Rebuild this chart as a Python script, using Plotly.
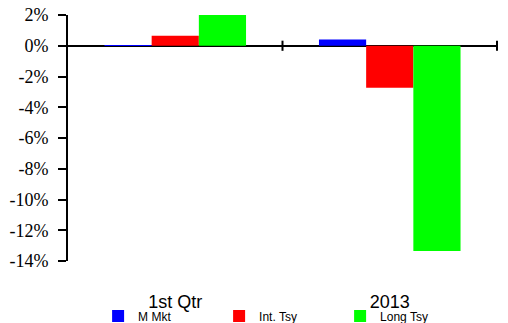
import plotly.graph_objects as go

categories = ["1st Qtr", "2013"]
series_names = ["M Mkt", "Int. Tsy", "Long Tsy"]
m_mkt = [0.02, 0.40]
int_tsy = [0.65, -2.73]
long_tsy = [2.02, -13.35]
colors = ["#0000FF", "#FF0000", "#00FF00"]
y_ticks = [2, 0, -2, -4, -6, -8, -10, -12, -14]

fig = go.Figure()
for name, vals, col in zip(series_names, [m_mkt, int_tsy, long_tsy], colors):
    fig.add_trace(go.Bar(x=categories, y=vals, name=name, marker_color=col,
                         marker_line_width=0))

# category boundary ticks crossing the zero line
for b in [0.5, 1.5]:
    fig.add_shape(type="line", xref="x", yref="y", x0=b, x1=b, y0=-0.33, y1=0.33,
                  line=dict(color="black", width=2))

fig.update_layout(
    width=508, height=323,
    font=dict(family="Liberation Sans", color="black"),
    margin=dict(l=68, r=10, t=15, b=62, autoexpand=False),
    plot_bgcolor="white", paper_bgcolor="white",
    barmode="group", bargap=0.34, bargroupgap=0,
    showlegend=True,
    legend=dict(orientation="h", x=0.07, xanchor="left", y=-0.224, yanchor="middle",
                entrywidth=76, entrywidthmode="pixels", bgcolor="rgba(0,0,0,0)",
                font=dict(family="Liberation Sans", size=12, color="black"),
                itemclick=False, traceorder="normal"),
)
fig.update_xaxes(showline=False, showgrid=False, zeroline=False,
                 ticks="outside", ticklen=24, tickcolor="rgba(0,0,0,0)",
                 tickfont=dict(family="Liberation Sans", size=18, color="black"))
fig.update_yaxes(range=[-14, 2], tickvals=y_ticks,
                 ticktext=[f"{v}%" for v in y_ticks],
                 showline=True, linecolor="black", linewidth=2,
                 ticks="outside", ticklen=8, tickwidth=2, tickcolor="black",
                 showgrid=False, zeroline=True, zerolinecolor="black", zerolinewidth=2,
                 tickfont=dict(family="Liberation Serif", size=18, color="black"),
                 ticklabelstandoff=6)

fig.write_html("out.html")
